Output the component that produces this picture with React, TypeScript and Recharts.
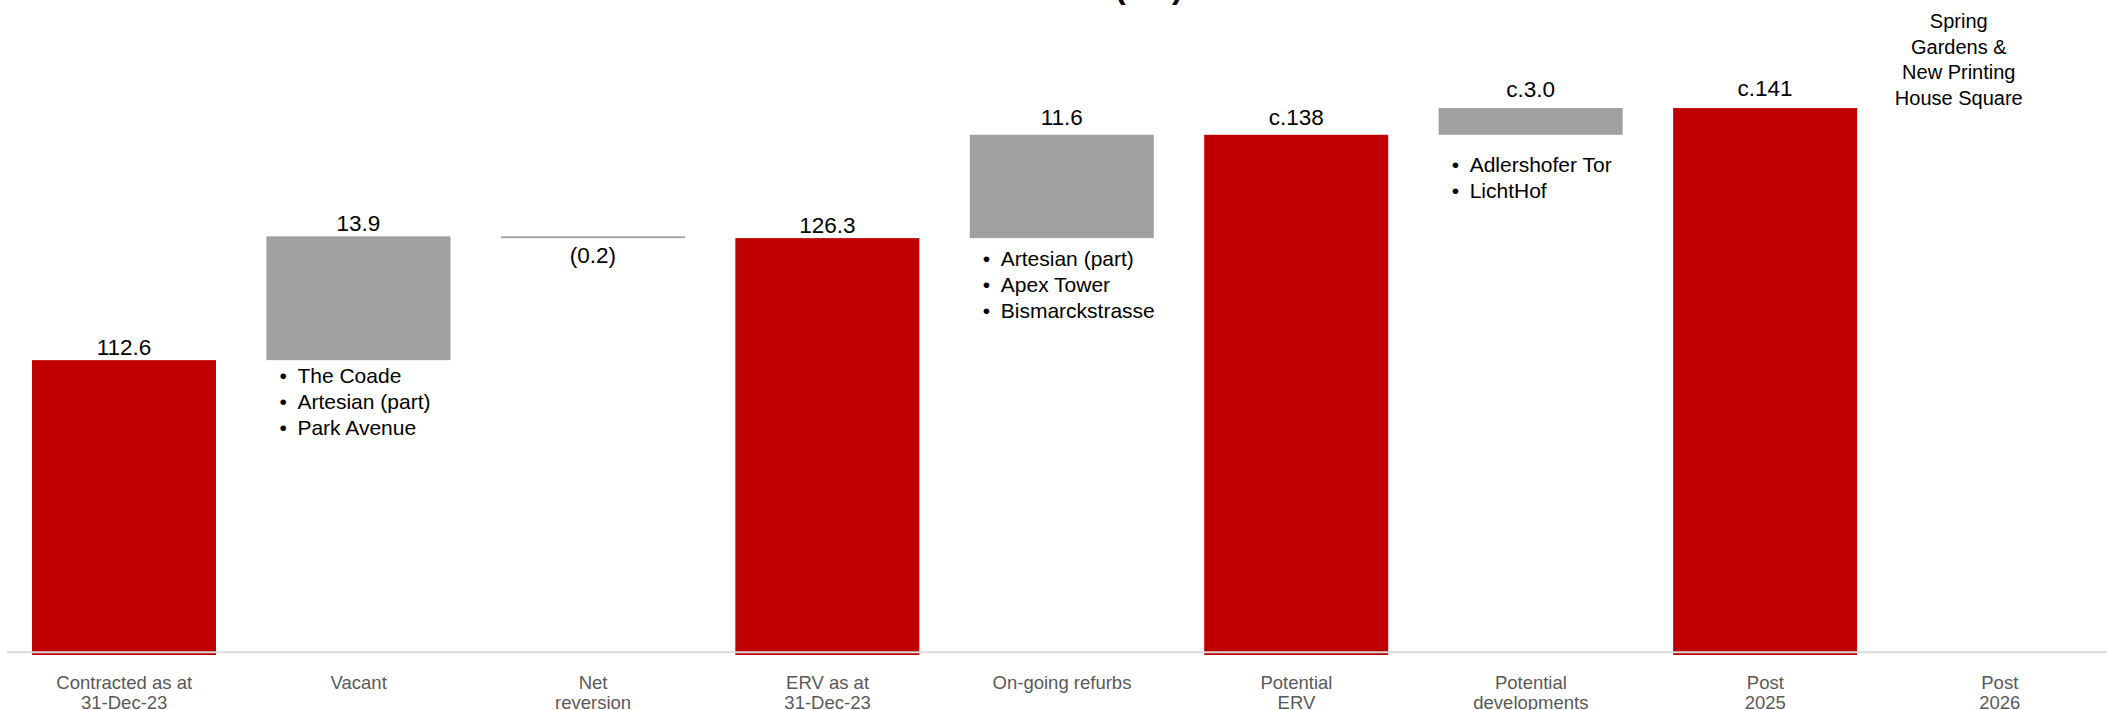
import { Bar, BarChart, ReferenceLine, XAxis, YAxis } from "recharts";

// waterfall steps
const categories = [
  "Contracted as at\n31-Dec-23",
  "Vacant",
  "Net\nreversion",
  "ERV as at\n31-Dec-23",
  "On-going refurbs",
  "Potential\nERV",
  "Potential\ndevelopments",
  "Post\n2025",
  "Post\n2026",
];
const amounts = [112.6, 13.9, -0.2, 126.3, 11.6, 137.9, 3.0, 140.9, null];
const isTotal = [true, false, false, true, false, true, false, true, false];
const valueLabels = ["112.6", "13.9", "(0.2)", "126.3", "11.6", "c.138", "c.3.0", "c.141", ""];
const notes = [
  [],
  ["The Coade", "Artesian (part)", "Park Avenue"],
  [],
  [],
  ["Artesian (part)", "Apex Tower", "Bismarckstrasse"],
  [],
  ["Adlershofer Tor", "LichtHof"],
  [],
  [],
];
const post2026Note = ["Spring", "Gardens &", "New Printing", "House Square"];

// layout
const AXIS_MIN = 79.5;
const AXIS_MAX = 150;
const labelGap = [5, 5, 25, 5, 10, 10, 11, 12, 0];
const noteGap = [0, 23, 0, 0, 28, 0, 37, 0, 0];
const RED = "#c00000";
const GREY = "#a0a09f";
const FONT = "'Liberation Sans', Arial, sans-serif";

let level = 0;
const data = categories.map((name, i) => {
  const v = amounts[i];
  let range: number[] | null = null;
  if (v != null) {
    if (isTotal[i]) {
      range = [AXIS_MIN, v];
      level = v;
    } else {
      const next = level + v;
      range = [Math.min(level, next), Math.max(level, next)];
      level = next;
    }
  }
  return {
    name,
    range,
    total: isTotal[i],
    negative: v != null && v < 0,
    label: valueLabels[i],
    labelGap: labelGap[i],
    notes: notes[i],
    gap: noteGap[i],
  };
});

const StepShape = (props: any) => {
  const { x, y, width, height, payload } = props;
  if (payload == null || payload.range == null) return null;
  const top = Math.min(y, y + height);
  const bottom = Math.max(y, y + height);
  const cx = x + width / 2;
  return (
    <g>
      <rect x={x} y={top} width={width} height={Math.max(bottom - top, 1.2)} fill={payload.total ? RED : GREY} />
      <text
        x={cx}
        y={payload.negative ? bottom + payload.labelGap : top - payload.labelGap}
        textAnchor="middle"
        fontSize={22.5}
        fontFamily={FONT}
        fill="#000"
      >
        {payload.label}
      </text>
      {payload.notes.map((n: string, k: number) => (
        <text key={n} y={bottom + payload.gap + k * 25.8} fontSize={21} fontFamily={FONT} fill="#000">
          <tspan x={x + 13}>•</tspan>
          <tspan x={x + 31}>{n}</tspan>
        </text>
      ))}
    </g>
  );
};

const CategoryTick = ({ x, y, payload }: any) => {
  const lines = String(payload.value).split("\n");
  return (
    <text x={x} y={y + 34.3} textAnchor="middle" fontSize={18.5} fontFamily={FONT} fill="#595959">
      {lines.map((l, i) => (
        <tspan key={i} x={x} dy={i === 0 ? 0 : 19.2}>
          {l}
        </tspan>
      ))}
    </text>
  );
};

const NoteLabel = ({ viewBox }: any) => {
  if (!viewBox) return null;
  return (
    <text textAnchor="middle" fontSize={20} fontFamily={FONT} fill="#000">
      {post2026Note.map((l, i) => (
        <tspan key={i} x={viewBox.x - 41} y={viewBox.y + 1 + i * 25.5}>
          {l}
        </tspan>
      ))}
    </text>
  );
};

export default function App() {
  return (
    <div
      style={{
        position: "absolute",
        left: 0,
        top: 0,
        width: 2107,
        height: 710,
        overflow: "hidden",
        background: "#fff",
        fontFamily: FONT,
      }}
    >
      <div
        style={{
          position: "absolute",
          left: 1115,
          top: -29,
          fontSize: 32,
          lineHeight: "32px",
          fontWeight: "bold",
          color: "#000",
          whiteSpace: "nowrap",
        }}
      >
        (€m)
      </div>
      <BarChart
        width={2117}
        height={710}
        data={data}
        margin={{ top: 27, right: 0, left: 7, bottom: 0 }}
        barCategoryGap={25}
      >
        <XAxis
          dataKey="name"
          axisLine={false}
          tickLine={false}
          tickSize={0}
          tickMargin={0}
          height={55}
          interval={0}
          tick={<CategoryTick />}
        />
        <YAxis hide type="number" domain={[AXIS_MIN, AXIS_MAX]} allowDataOverflow />
        <Bar dataKey="range" isAnimationActive={false} shape={<StepShape />} />
        <ReferenceLine y={79.8} stroke="#d9d9d9" strokeWidth={2} ifOverflow="visible" />
        <ReferenceLine x={"Post\n2026"} stroke="none" label={<NoteLabel />} />
      </BarChart>
    </div>
  );
}
